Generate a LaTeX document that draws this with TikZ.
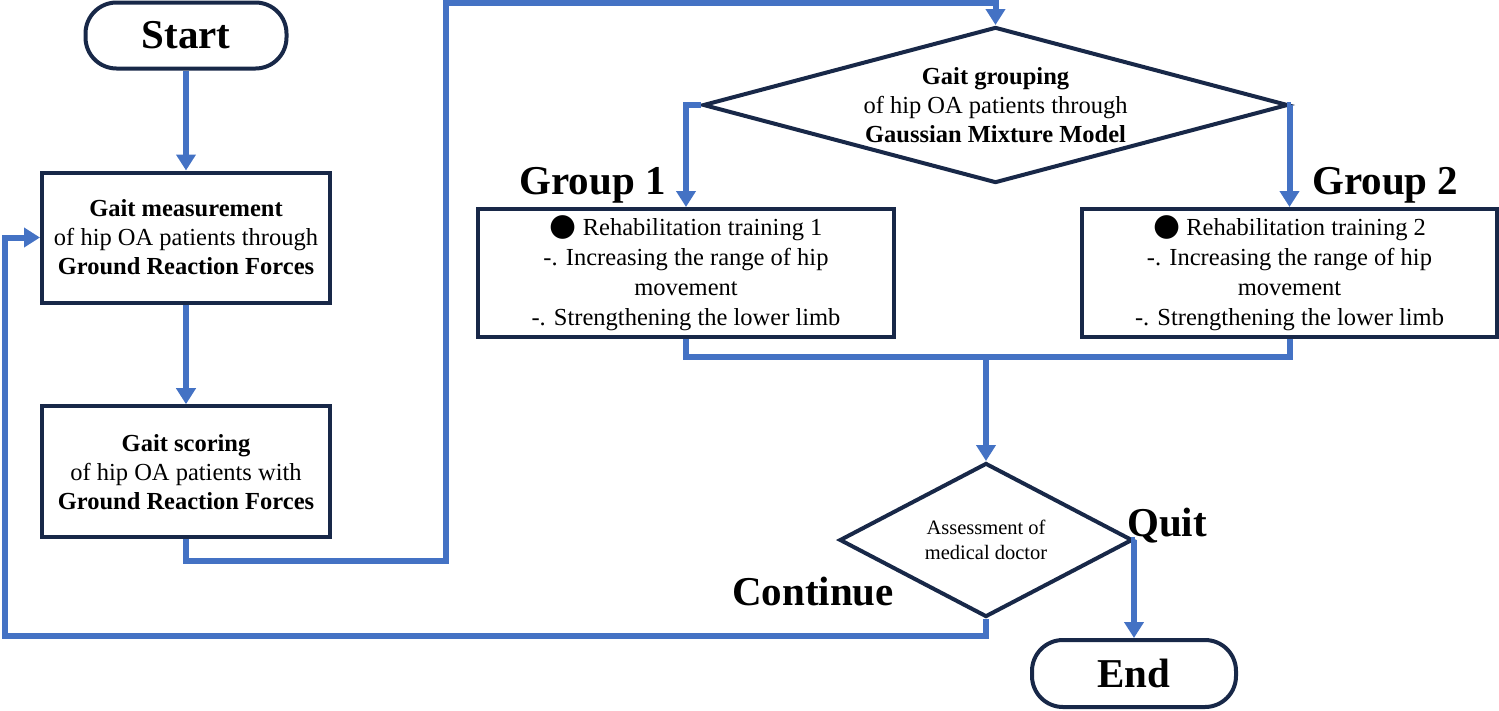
\documentclass[tikz,border=0pt]{standalone}
\usepackage{fontspec}
\setmainfont{Liberation Serif}
\newfontfamily\djv{DejaVu Sans}
\usetikzlibrary{arrows.meta,shapes.geometric}
\definecolor{cblue}{HTML}{4472C4}
\definecolor{navy}{RGB}{24,40,72}
\tikzset{
  conn/.style={draw=cblue, line width=6pt},
  arr/.style={conn, -{Triangle[width=19pt,length=16pt]}},
  box/.style={draw=navy, line width=4pt, rectangle, inner sep=0pt, align=center, fill=white,
    font=\fontsize{24.5}{29}\selectfont},
  gbox/.style={box, font=\fontsize{24.5}{30}\selectfont},
  term/.style={draw=navy, line width=4pt, rectangle, rounded corners=31pt, inner sep=0pt,
    font=\fontsize{41}{41}\selectfont\bfseries},
  dia/.style={draw=navy, line width=4pt, diamond, inner sep=0pt, align=center},
  lab/.style={inner sep=0pt, font=\fontsize{41}{41}\selectfont\bfseries}
}
\begin{document}
\begin{tikzpicture}[x=1pt,y=-1pt]
\useasboundingbox (0,0) rectangle (1499,710);
% nodes
\node[term, minimum width=201, minimum height=66] (start) at (186,35.5) {Start};
\node[box, minimum width=288, minimum height=130] (meas) at (186,237.5)
  {\textbf{Gait measurement}\\of hip OA patients through\\\textbf{Ground Reaction Forces}};
\node[box, minimum width=288, minimum height=131] (score) at (186,471.7)
  {\textbf{Gait scoring}\\of hip OA patients with\\\textbf{Ground Reaction Forces}};
\node[dia, minimum width=585, minimum height=156, aspect=3.75,
  font=\fontsize{24.5}{29}\selectfont] (grp) at (995.5,105)
  {\textbf{Gait grouping}\\of hip OA patients through\\\textbf{Gaussian Mixture Model}};
\node[gbox, minimum width=416, minimum height=128] (box1) at (686,273)
  {{\djv\fontsize{31}{31}\selectfont ●} Rehabilitation training 1\\-. Increasing the range of hip\\movement\\-. Strengthening the lower limb};
\node[gbox, minimum width=415, minimum height=128] (box2) at (1289.5,273)
  {{\djv\fontsize{31}{31}\selectfont ●} Rehabilitation training 2\\-. Increasing the range of hip\\movement\\-. Strengthening the lower limb};
\node[dia, minimum width=293, minimum height=154, aspect=1.9,
  font=\fontsize{20.5}{25}\selectfont] (asmt) at (986,540)
  {Assessment of\\medical doctor};
\node[term, minimum width=204, minimum height=67] (end) at (1134,673.5) {End};
% labels
\node[lab, anchor=base east] (g1) at (666,194) {Group 1};
\node[lab, anchor=base west] (g2) at (1312,194) {Group 2};
\node[lab, anchor=base west] (quit) at (1127,536) {Quit};
\node[lab, anchor=base west] (cont) at (732,605) {Continue};
% coordinates
\coordinate (c2) at (445.5,561);
\coordinate (ctop) at (445.5,3);
\coordinate (merge) at (986,357);
\coordinate (loop) at (5,636);
% connectors
\draw[arr] (start) -- (meas);
\draw[arr] (meas) -- (score);
\draw[arr] (score.south) |- (c2) -- (ctop) -| (grp.north);
\draw[arr] (grp.west) -| (box1.north);
\draw[arr] (grp.east) -| (box2.north);
\draw[conn] (box1.south) |- (merge);
\draw[conn] (box2.south) |- (merge);
\draw[arr] (merge) -- (asmt.north);
\draw[arr] (asmt.east) -| (end.north);
\draw[arr] (asmt.south) |- (loop) |- (meas.west);
\end{tikzpicture}
\end{document}
